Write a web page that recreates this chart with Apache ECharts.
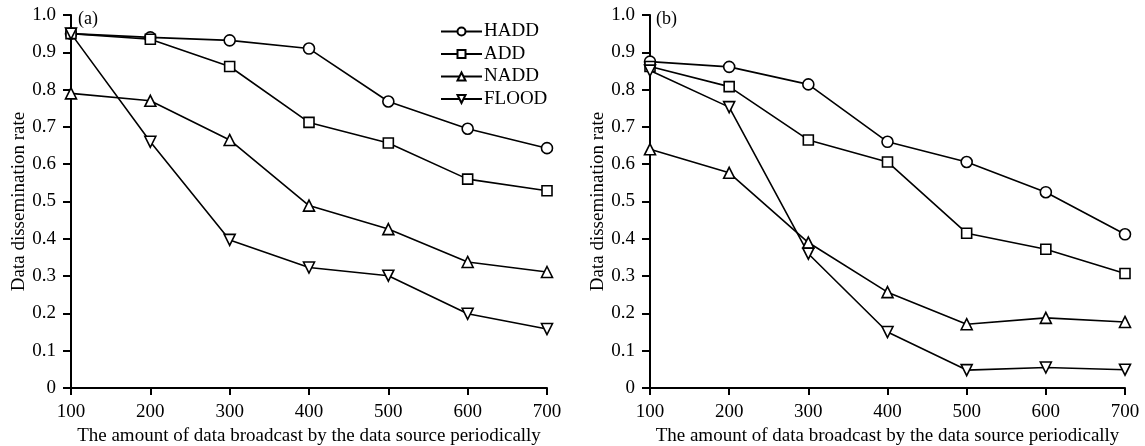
<!DOCTYPE html>
<html>
<head>
<meta charset="utf-8">
<script src="https://cdn.jsdelivr.net/npm/echarts@6/dist/echarts.min.js"></script>
<style>
  html, body { margin: 0; padding: 0; background: #fff; }
  #chart { width: 1145px; height: 446px; }
</style>
</head>
<body>
<div id="chart"></div>
<script>
var xValues = [100, 200, 300, 400, 500, 600, 700];
var seriesNames = ['HADD', 'ADD', 'NADD', 'FLOOD'];

// panel (a)
var haddA = [0.950, 0.940, 0.932, 0.910, 0.768, 0.695, 0.643];
var addA = [0.950, 0.935, 0.862, 0.712, 0.657, 0.560, 0.529];
var naddA = [0.790, 0.770, 0.665, 0.489, 0.426, 0.338, 0.311];
var floodA = [0.950, 0.660, 0.397, 0.323, 0.301, 0.199, 0.158];

// panel (b)
var haddB = [0.875, 0.861, 0.814, 0.660, 0.606, 0.525, 0.412];
var addB = [0.862, 0.808, 0.665, 0.606, 0.415, 0.372, 0.307];
var naddB = [0.640, 0.577, 0.390, 0.257, 0.171, 0.188, 0.177];
var floodB = [0.851, 0.753, 0.360, 0.150, 0.048, 0.055, 0.049];

var symbols = ['circle', 'rect', 'triangle', 'triangle'];
var rotates = [0, 0, 0, 180];
var serif = 'Liberation Serif';

function pairs(vals) {
  return xValues.map(function (x, i) { return [x, vals[i]]; });
}

function makeSeries(idx, name, vals) {
  var k = seriesNames.indexOf(name);
  return {
    name: name,
    type: 'line',
    xAxisIndex: idx,
    yAxisIndex: idx,
    data: pairs(vals),
    symbol: symbols[k],
    symbolRotate: rotates[k],
    symbolSize: k === 1 ? 10 : 11,
    showAllSymbol: true,
    lineStyle: { color: '#000', width: 1.6 },
    itemStyle: { color: '#fff', borderColor: '#000', borderWidth: 1.6 },
    z: 3
  };
}

function xAxisOpt(idx) {
  return {
    type: 'value',
    gridIndex: idx,
    min: 100, max: 700, interval: 100,
    name: 'The amount of data broadcast by the data source periodically',
    nameLocation: 'middle',
    nameGap: 38,
    nameTextStyle: { fontFamily: serif, fontSize: 19, color: '#000' },
    axisLine: { show: true, lineStyle: { color: '#000', width: 2 } },
    axisTick: { show: true, inside: false, length: 7, lineStyle: { color: '#000', width: 2 } },
    axisLabel: { fontFamily: serif, fontSize: 19, color: '#000', margin: 15 },
    splitLine: { show: false }
  };
}

function yAxisOpt(idx) {
  return {
    type: 'value',
    gridIndex: idx,
    min: 0, max: 1, interval: 0.1,
    name: 'Data dissemination rate',
    nameLocation: 'middle',
    nameRotate: 90,
    nameGap: 41,
    nameTextStyle: { fontFamily: serif, fontSize: 19, color: '#000' },
    axisLine: { show: true, lineStyle: { color: '#000', width: 2 } },
    axisTick: { show: true, inside: false, length: 8, lineStyle: { color: '#000', width: 2 } },
    axisLabel: {
      fontFamily: serif, fontSize: 19, color: '#000', margin: 15,
      formatter: function (v) { return v === 0 ? '0' : v.toFixed(1); }
    },
    splitLine: { show: false }
  };
}

var chart = echarts.init(document.getElementById('chart'));
chart.setOption({
  backgroundColor: '#fff',
  animation: false,
  grid: [
    { left: 71, top: 15, width: 476, height: 373, outerBoundsMode: 'none' },
    { left: 650, top: 15, width: 475, height: 373, outerBoundsMode: 'none' }
  ],
  xAxis: [xAxisOpt(0), xAxisOpt(1)],
  yAxis: [yAxisOpt(0), yAxisOpt(1)],
  legend: {
    orient: 'vertical',
    left: 435,
    top: 17,
    itemWidth: 41,
    itemHeight: 10,
    itemGap: 3.5,
    data: seriesNames,
    textStyle: { fontFamily: serif, fontSize: 19, color: '#000', padding: [0, 0, 0, -3] }
  },
  graphic: [
    { type: 'text', left: 78, top: 10, style: { text: '(a)', font: '18px "Liberation Serif"', fill: '#000' } },
    { type: 'text', left: 656, top: 10, style: { text: '(b)', font: '18px "Liberation Serif"', fill: '#000' } }
  ],
  series: [
    makeSeries(0, 'HADD', haddA),
    makeSeries(0, 'ADD', addA),
    makeSeries(0, 'NADD', naddA),
    makeSeries(0, 'FLOOD', floodA),
    makeSeries(1, 'HADD', haddB),
    makeSeries(1, 'ADD', addB),
    makeSeries(1, 'NADD', naddB),
    makeSeries(1, 'FLOOD', floodB)
  ]
});
</script>
</body>
</html>
